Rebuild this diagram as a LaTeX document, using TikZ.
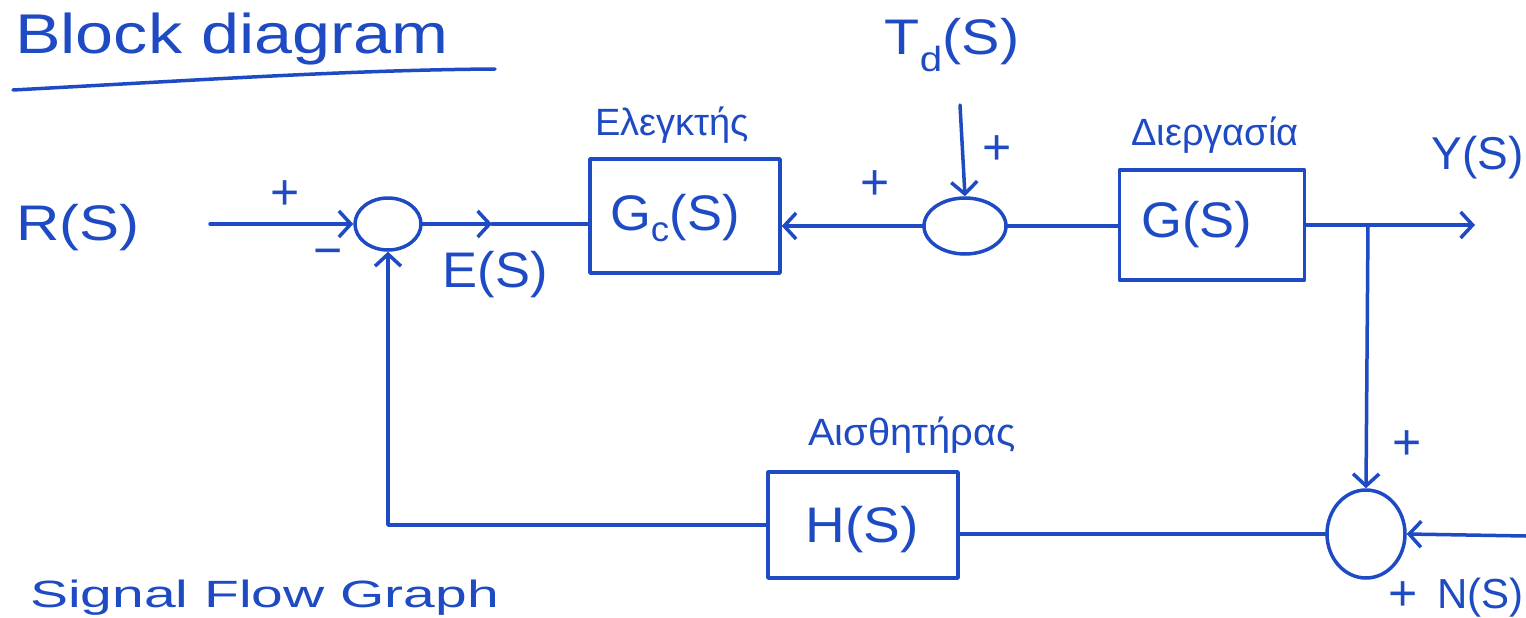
\documentclass[tikz,border=0pt]{standalone}
\usepackage{fontspec}
\setmainfont{Liberation Sans}
\usetikzlibrary{arrows.meta,shapes.geometric}
\definecolor{ink}{RGB}{30,75,195}
\newcommand{\widetxt}[2]{\scalebox{#1}[1]{#2}}
\begin{document}
\begin{tikzpicture}[x=1pt,y=-1pt,
  every node/.style={text=ink,inner sep=0pt},
  wire/.style={draw=ink,line width=3.5pt,line cap=round,line join=round},
  arr/.style={wire,-{Straight Barb[length=12pt,width=26pt,line width=3.5pt]}},
  block/.style={wire,rectangle},
  junction/.style={wire,ellipse},
  big/.style={font=\fontsize{50}{54}\selectfont},
  mid/.style={font=\fontsize{38}{42}\selectfont},
  sign/.style={font=\fontsize{50}{50}\selectfont}]
\useasboundingbox[fill=white] (0,0) rectangle (1526,618);

% heading
\node[big,anchor=base west,font=\fontsize{56}{60}\selectfont] (title) at (15,54) {\widetxt{1.22}{Block diagram}};
\coordinate (ul1) at (13,90);
\coordinate (ul2) at (495,69);
\draw[wire] (ul1) .. controls (200,80) and (350,70) .. (ul2);

% summing junctions
\node[junction,minimum width=66pt,minimum height=52pt] (s1) at (388,224) {};
\node[junction,minimum width=82pt,minimum height=56pt] (s2) at (965,226) {};
\node[junction,minimum width=78pt,minimum height=88pt] (s3) at (1366,534) {};

% blocks
\node[block,minimum width=190pt,minimum height=114pt] (gc) at (685,216) {};
\node[block,minimum width=185pt,minimum height=110pt] (g) at (1212,225) {};
\node[block,minimum width=190pt,minimum height=106pt] (h) at (863,525) {};

\node[big] (gct) at (675,218) {\widetxt{1.05}{G\textsubscript{c}(S)}};
\node[big] (gt) at (1197,225) {\widetxt{1.05}{G(S)}};
\node[big] (ht) at (862,530) {\widetxt{1.1}{H(S)}};

% block titles
\node[mid] (lc) at (672,125) {\widetxt{1.0}{Ελεγκτής}};
\node[mid] (lp) at (1215,135) {\widetxt{1.0}{Διεργασία}};
\node[mid] (ls) at (912,435) {\widetxt{1.05}{Αισθητήρας}};

% signals
\node[big] (r) at (78,228) {\widetxt{1.2}{R(S)}};
\node[big] (e) at (495,275) {\widetxt{1.05}{E(S)}};
\node[big] (td) at (952,45) {\widetxt{1.15}{T\textsubscript{d}(S)}};
\node[big,anchor=east,font=\fontsize{46}{50}\selectfont] (y) at (1524,158) {Y(S)};
\node[big,anchor=east,font=\fontsize{42}{46}\selectfont] (n) at (1524,598) {N(S)};

% signs
\node[sign] (p1) at (285,195) {+};
\node[sign] (m1) at (328,258) {−};
\node[sign] (p2) at (875,185) {+};
\node[sign] (p3) at (997,150) {+};
\node[sign] (p4) at (1407,445) {+};
\node[sign] (p5) at (1403,596) {+};

% connectors
\coordinate (rin) at (210,224);
\coordinate (emid) at (492,224);
\coordinate (tdin) at (960,105);
\coordinate (yout) at (1475,225);
\coordinate (tap) at (1368,225);
\coordinate (nin) at (1526,536);

\draw[arr] (rin) -- (s1.west);
\draw[arr] (s1.east) -- (emid);
\draw[wire] (emid) -- (emid -| gc.west);
\draw[arr] (s2.west) -- (s2.west -| gc.east);
\draw[arr] (tdin) -- (s2.north);
\draw[wire] (s2.east) -- (s2.east -| g.west);
\draw[arr] (g.east) -- (yout);
\draw[arr] (tap) -- (s3.north);
\draw[arr] (nin) -- (s3.east);
\draw[wire] (s3.west) -- (s3.west -| h.east);
\draw[arr] (h.west) -| (s1.south);

% next heading at the foot of the sheet
\node[big,anchor=base west,font=\fontsize{38}{42}\selectfont] (sfg) at (30,607) {\widetxt{1.5}{Signal Flow Graph}};
\end{tikzpicture}
\end{document}
